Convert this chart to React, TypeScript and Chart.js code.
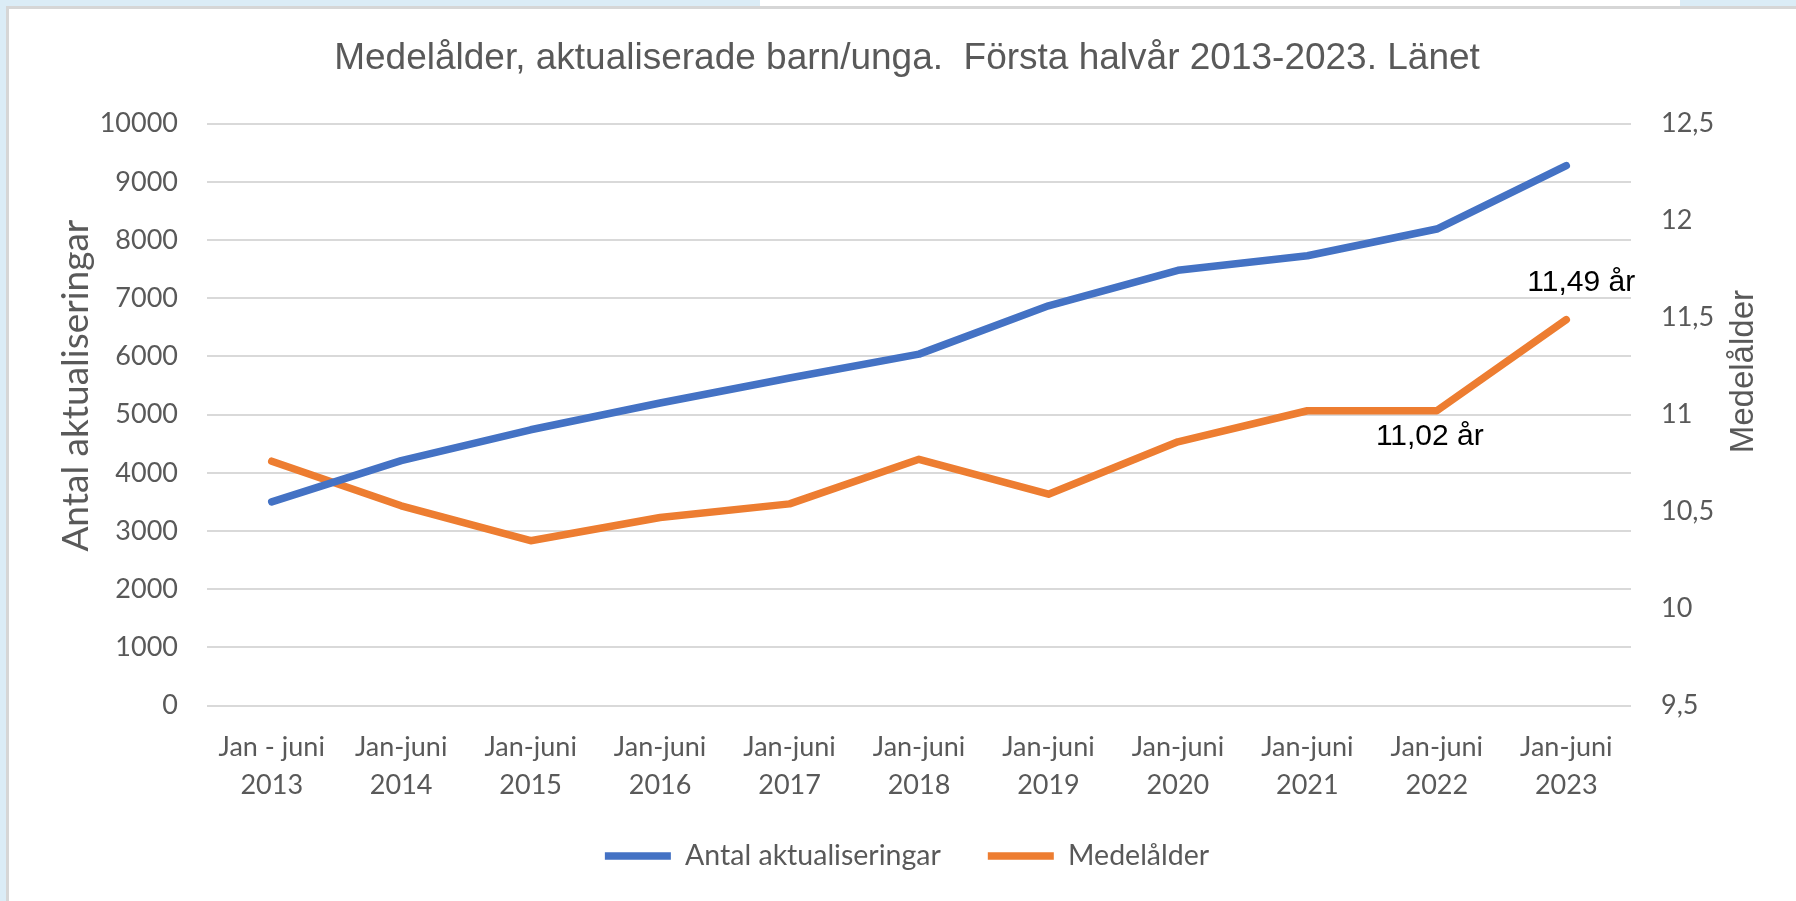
import React, { useEffect, useRef } from "react";
import { Chart, registerables } from "chart.js";

Chart.register(...registerables);

// ---- Data ----
const chartTitle = "Medelålder, aktualiserade barn/unga.  Första halvår 2013-2023. Länet";
const periodLabels = ["Jan - juni", "Jan-juni", "Jan-juni", "Jan-juni", "Jan-juni", "Jan-juni", "Jan-juni", "Jan-juni", "Jan-juni", "Jan-juni", "Jan-juni"];
const years = ["2013", "2014", "2015", "2016", "2017", "2018", "2019", "2020", "2021", "2022", "2023"];
const antalAktualiseringar = [3500, 4210, 4740, 5200, 5630, 6040, 6870, 7480, 7730, 8190, 9280];
const medelalder = [10.76, 10.53, 10.35, 10.47, 10.54, 10.77, 10.59, 10.86, 11.02, 11.02, 11.49];
const seriesNames = ["Antal aktualiseringar", "Medelålder"];
const leftAxisTitle = "Antal aktualiseringar";
const rightAxisTitle = "Medelålder";
const leftAxisRange = [0, 10000, 1000];
const rightAxisRange = [9.5, 12.5, 0.5];
const annotationIndices = [9, 10];
const annotationTexts = ["11,02 år", "11,49 år"];

const GREY = "#595959";

const extrasPlugin = {
  id: "extras",
  afterDraw(chart: any) {
    const { ctx, chartArea } = chart;
    const midY = (chartArea.top + chartArea.bottom) / 2;
    ctx.save();
    ctx.fillStyle = GREY;
    ctx.textAlign = "center";
    ctx.textBaseline = "middle";

    // left axis title
    ctx.save();
    ctx.font = "37px Lato";
    ctx.translate(chartArea.left - 131, midY - 29);
    ctx.rotate(-Math.PI / 2);
    ctx.fillText(leftAxisTitle, 0, 0);
    ctx.restore();

    // right axis title
    ctx.save();
    ctx.font = "33px 'Liberation Sans'";
    ctx.translate(chartArea.right + 113, midY - 43);
    ctx.rotate(-Math.PI / 2);
    ctx.fillText(rightAxisTitle, 0, 0);
    ctx.restore();

    // annotations on Medelålder series
    const meta = chart.getDatasetMeta(1);
    const offsets = [
      { dx: -7, dy: 26 },
      { dx: 15, dy: -37 },
    ];
    ctx.fillStyle = "#000000";
    ctx.font = "30px 'Liberation Sans'";
    annotationIndices.forEach((idx, i) => {
      const pt = meta.data[idx];
      if (!pt) return;
      ctx.fillText(annotationTexts[i], pt.x + offsets[i].dx, pt.y + offsets[i].dy);
    });
    ctx.restore();
  },
};

export default function App() {
  const canvasRef = useRef<HTMLCanvasElement | null>(null);

  useEffect(() => {
    if (!canvasRef.current) return;
    const labels = years.map((y, i) => [periodLabels[i], y]);
    const chart = new Chart(canvasRef.current, {
      type: "line",
      data: {
        labels,
        datasets: [
          {
            label: seriesNames[0],
            data: antalAktualiseringar,
            borderColor: "#4472c4",
            backgroundColor: "#4472c4",
            borderWidth: 7.5,
            borderCapStyle: "round",
            borderJoinStyle: "round",
            pointRadius: 0,
            pointHoverRadius: 0,
            tension: 0,
            yAxisID: "y",
            pointStyle: "line",
          },
          {
            label: seriesNames[1],
            data: medelalder,
            borderColor: "#ed7d31",
            backgroundColor: "#ed7d31",
            borderWidth: 7.5,
            borderCapStyle: "round",
            borderJoinStyle: "round",
            pointRadius: 0,
            pointHoverRadius: 0,
            tension: 0,
            yAxisID: "y1",
            pointStyle: "line",
          },
        ],
      },
      options: {
        responsive: false,
        animation: false,
        events: [],
        layout: { padding: { left: 0, right: 0, top: 0, bottom: 20.75 } },
        plugins: {
          tooltip: { enabled: false },
          title: {
            display: true,
            text: chartTitle,
            color: GREY,
            font: { family: "'Liberation Sans'", size: 37, weight: "normal", lineHeight: 1.2 },
            padding: { top: 28, bottom: 42.3 },
          },
          legend: {
            display: true,
            position: "bottom",
            labels: {
              usePointStyle: true,
              pointStyleWidth: 66,
              boxHeight: 8,
              padding: 47,
              color: GREY,
              font: { family: "Lato", size: 28.5 },
            },
          },
        },
        scales: {
          x: {
            type: "category",
            offset: true,
            grid: { display: false, drawTicks: false, tickLength: 0 },
            border: { display: false },
            ticks: {
              color: GREY,
              font: { family: "Lato", size: 27, lineHeight: 1.4 },
              padding: 22.5,
              maxRotation: 0,
              autoSkip: false,
            },
            afterFit(scale: any) {
              scale.height = 89.15;
              scale._computeLabelArea = () => undefined;
            },
          },
          y: {
            type: "linear",
            position: "left",
            min: leftAxisRange[0],
            max: leftAxisRange[1],
            grid: { color: "#d9d9d9", lineWidth: 2, drawTicks: false, tickLength: 0 },
            border: { display: false },
            ticks: {
              stepSize: leftAxisRange[2],
              color: GREY,
              font: { family: "Lato", size: 27 },
              padding: 29,
              callback: (v: any) => String(v),
            },
            afterFit(scale: any) {
              scale.width = 198;
            },
          },
          y1: {
            type: "linear",
            position: "right",
            min: rightAxisRange[0],
            max: rightAxisRange[1],
            grid: { display: false, drawTicks: false, tickLength: 0 },
            border: { display: false },
            ticks: {
              stepSize: rightAxisRange[2],
              color: GREY,
              font: { family: "Lato", size: 27 },
              padding: 30,
              callback: (v: any) => String(v).replace(".", ","),
            },
            afterFit(scale: any) {
              scale.width = 174;
            },
          },
        },
      },
      plugins: [extrasPlugin],
    } as any);
    return () => chart.destroy();
  }, []);

  return (
    <div style={{ position: "fixed", inset: 0, background: "#dbecf6", overflow: "hidden" }}>
      <div style={{ position: "absolute", left: 760, width: 920, top: 0, height: 8, background: "#ffffff" }} />
      <div
        style={{
          position: "absolute",
          left: 6,
          top: 6,
          right: -20,
          bottom: -20,
          background: "#ffffff",
          border: "3px solid #d6d6d6",
        }}
      />
      <div style={{ position: "absolute", left: 9, top: 9, width: 1796, height: 892 }}>
        <canvas ref={canvasRef} width={1796} height={892} style={{ display: "block" }} />
      </div>
    </div>
  );
}
